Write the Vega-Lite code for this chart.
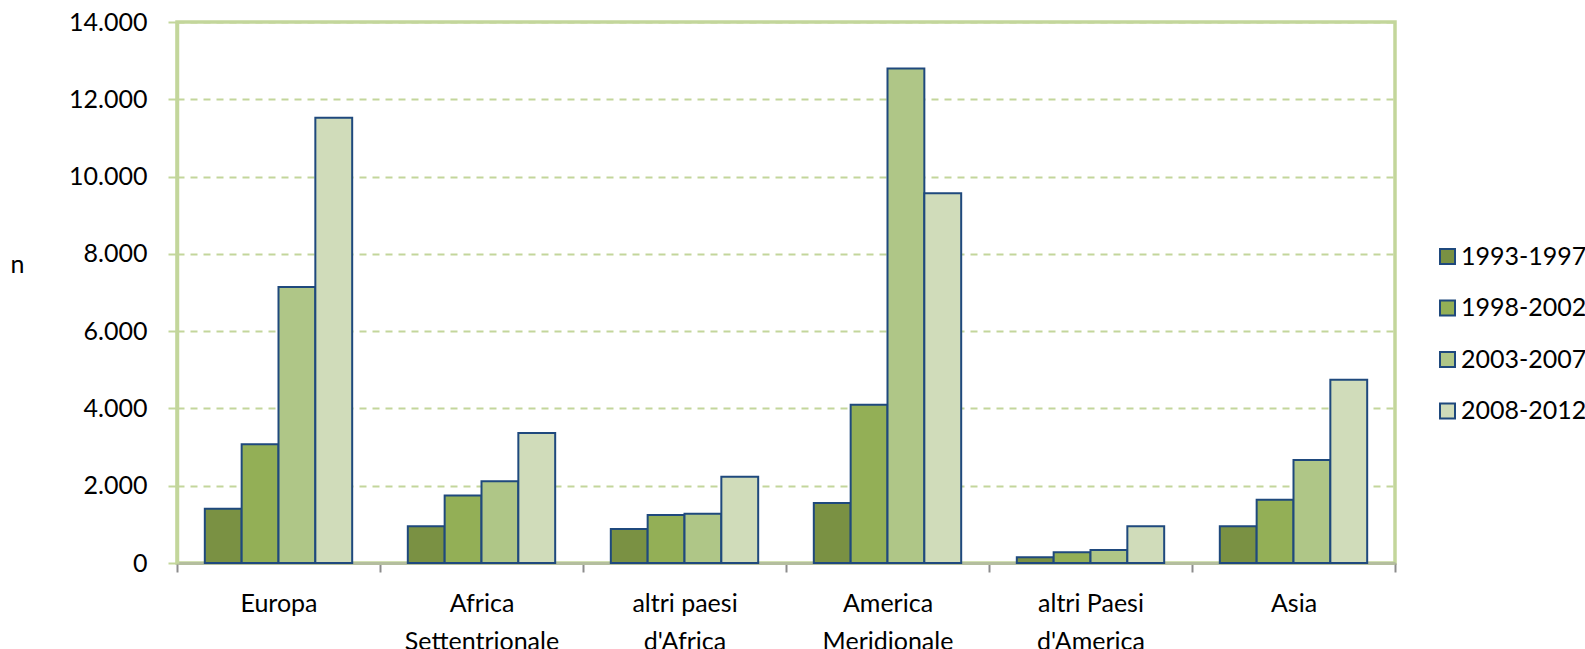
{
  "$schema": "https://vega.github.io/schema/vega-lite/v6.json",
  "autosize": {"type": "none"},
  "width": 1218,
  "height": 541,
  "padding": {"left": 177, "top": 22, "right": 190, "bottom": 86},
  "background": "white",
  "config": {
    "font": "Lato",
    "view": {"stroke": "#C3D69B", "strokeWidth": 3.5}
  },
  "data": {
    "values": [
      {"area": "Europa", "periodo": "1993-1997", "n": 1405},
      {"area": "Europa", "periodo": "1998-2002", "n": 3075},
      {"area": "Europa", "periodo": "2003-2007", "n": 7145},
      {"area": "Europa", "periodo": "2008-2012", "n": 11525},
      {"area": "Africa Settentrionale", "periodo": "1993-1997", "n": 950},
      {"area": "Africa Settentrionale", "periodo": "1998-2002", "n": 1750},
      {"area": "Africa Settentrionale", "periodo": "2003-2007", "n": 2115},
      {"area": "Africa Settentrionale", "periodo": "2008-2012", "n": 3365},
      {"area": "altri paesi d'Africa", "periodo": "1993-1997", "n": 880},
      {"area": "altri paesi d'Africa", "periodo": "1998-2002", "n": 1240},
      {"area": "altri paesi d'Africa", "periodo": "2003-2007", "n": 1275},
      {"area": "altri paesi d'Africa", "periodo": "2008-2012", "n": 2235},
      {"area": "America Meridionale", "periodo": "1993-1997", "n": 1555},
      {"area": "America Meridionale", "periodo": "1998-2002", "n": 4095},
      {"area": "America Meridionale", "periodo": "2003-2007", "n": 12795},
      {"area": "America Meridionale", "periodo": "2008-2012", "n": 9570},
      {"area": "altri Paesi d'America", "periodo": "1993-1997", "n": 150},
      {"area": "altri Paesi d'America", "periodo": "1998-2002", "n": 275},
      {"area": "altri Paesi d'America", "periodo": "2003-2007", "n": 335},
      {"area": "altri Paesi d'America", "periodo": "2008-2012", "n": 950},
      {"area": "Asia", "periodo": "1993-1997", "n": 950},
      {"area": "Asia", "periodo": "1998-2002", "n": 1640},
      {"area": "Asia", "periodo": "2003-2007", "n": 2665},
      {"area": "Asia", "periodo": "2008-2012", "n": 4745}
    ]
  },
  "mark": {"type": "bar", "stroke": "#1F497D", "strokeWidth": 2},
  "encoding": {
    "x": {
      "field": "area",
      "type": "nominal",
      "sort": null,
      "scale": {"paddingInner": 0, "paddingOuter": 0},
      "axis": {
        "title": null,
        "labelAngle": 0,
        "labelFontSize": 25,
        "labelColor": "#000000",
        "labelPadding": 19,
        "labelLimit": 0,
        "labelLineHeight": 38,
        "labelExpr": "isString(datum.value) && indexof(datum.value, ' ') > 0 ? [slice(datum.value, 0, lastindexof(datum.value, ' ')), slice(datum.value, lastindexof(datum.value, ' ') + 1)] : datum.label",
        "tickBand": "extent",
        "ticks": true,
        "tickSize": 9,
        "tickWidth": 2,
        "tickColor": "#8C8C8C",
        "domainColor": "#B4BE9E",
        "domainWidth": 3,
        "grid": false
      }
    },
    "xOffset": {
      "field": "periodo",
      "type": "nominal",
      "scale": {"paddingInner": 0, "paddingOuter": 0.755}
    },
    "y": {
      "field": "n",
      "type": "quantitative",
      "scale": {"domain": [0, 14000], "nice": false},
      "axis": {
        "values": [0, 2000, 4000, 6000, 8000, 10000, 12000, 14000],
        "labelExpr": "replace(format(datum.value, ','), ',', '.')",
        "labelFontSize": 25,
        "labelColor": "#000000",
        "labelPadding": 21,
        "tickSize": 9,
        "tickWidth": 2,
        "tickColor": "#C3D69B",
        "domainColor": "#C3D69B",
        "domainWidth": 3.5,
        "grid": true,
        "gridColor": "#C3D69B",
        "gridWidth": 2,
        "gridDash": [7, 6],
        "title": "n",
        "titleAngle": 0,
        "titleFontSize": 25,
        "titleFontWeight": "normal",
        "titleColor": "#000000",
        "titleAlign": "center",
        "titleBaseline": "alphabetic",
        "titleX": -160,
        "titleY": 250
      }
    },
    "color": {
      "field": "periodo",
      "type": "nominal",
      "scale": {
        "domain": ["1993-1997", "1998-2002", "2003-2007", "2008-2012"],
        "range": ["#7A9143", "#93AF56", "#AFC687", "#D0DCBA"]
      },
      "legend": {
        "title": null,
        "orient": "none",
        "legendX": 1258,
        "legendY": 222,
        "symbolType": "square",
        "symbolSize": 225,
        "symbolStrokeColor": "#1F497D",
        "symbolStrokeWidth": 2,
        "labelFontSize": 25,
        "labelColor": "#000000",
        "labelOffset": 1,
        "rowPadding": 25.5
      }
    }
  }
}
